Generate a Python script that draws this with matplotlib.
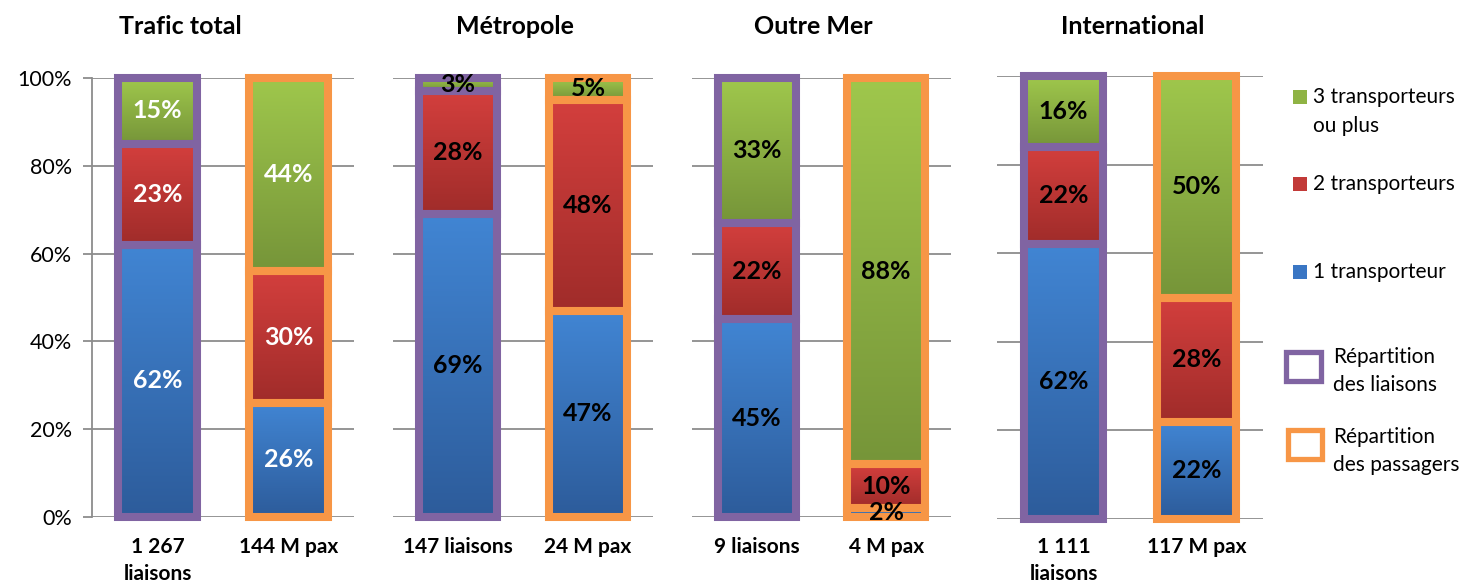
import matplotlib
matplotlib.use("Agg")
import matplotlib.pyplot as plt
import numpy as np
from matplotlib.patches import Rectangle
from matplotlib.colors import to_rgb
import matplotlib.transforms as mtransforms

plt.rcParams['font.family'] = ['Lato', 'DejaVu Sans']

# ---------------- data ----------------
panels = ["Trafic total", "Métropole", "Outre Mer", "International"]
bar_labels = [["1 267\nliaisons", "144 M pax"],
              ["147 liaisons", "24 M pax"],
              ["9 liaisons", "4 M pax"],
              ["1 111\nliaisons", "117 M pax"]]
series = ["1 transporteur", "2 transporteurs", "3 transporteurs\nou plus"]
# values per panel: [liaisons, passagers], each [1, 2, 3+ transporteurs] in %
one_carrier = [[62, 26], [69, 47], [45, 2], [62, 22]]
two_carriers = [[23, 30], [28, 48], [22, 10], [22, 28]]
three_plus = [[15, 44], [3, 5], [33, 88], [16, 50]]

# ---------------- styles ----------------
W, H = 1483, 588
grad = {0: ("#4185d3", "#2d5c9b"),   # blue top, bottom
        1: ("#d33f3d", "#a02c2a"),   # red
        2: ("#9fc74c", "#769539")}   # green
legend_col = ["#3a76c4", "#c23a38", "#8fb344"]
edge_cols = ["#8064a2", "#f79646"]
label_color = ["white", "black", "black", "black"]

def fx(px):
    return px / W

def fy(py):
    return 1 - py / H

panel_px = [(92, 354, 78, 517), (393, 653, 78, 517), (692, 951, 78, 517), (997, 1263, 76, 519)]
title_x = [180, 515, 813, 1133]

fig = plt.figure(figsize=(W / 100, H / 100), dpi=100)

for p in range(4):
    l, r, t, b = panel_px[p]
    ax = fig.add_axes([fx(l), fy(b), (r - l) / W, (b - t) / H])
    ax.set_xlim(0, 2)
    ax.set_ylim(0, 1)
    xs = [0.5, 1.5]
    stacks = [one_carrier[p], two_carriers[p], three_plus[p]]
    bottoms = np.zeros(2)
    for s in range(3):
        vals = np.array(stacks[s]) / 100.0
        bars = ax.bar(xs, vals, width=0.6, bottom=bottoms, facecolor='none',
                      edgecolor=edge_cols, linewidth=5.8, zorder=4, clip_on=False)
        top_c, bot_c = grad[s]
        for j, patch in enumerate(bars.patches):
            x0, y0 = patch.get_x(), patch.get_y()
            w, h = patch.get_width(), patch.get_height()
            n = 64
            tt = np.linspace(0, 1, n)[:, None]
            c = (1 - tt) * np.array(to_rgb(top_c)) + tt * np.array(to_rgb(bot_c))
            img = c[:, None, :]
            ax.imshow(img, extent=[x0, x0 + w, y0, y0 + h], aspect='auto',
                      origin='upper', zorder=3, interpolation='bilinear')
            ax.text(x0 + w / 2, y0 + h / 2, f"{stacks[s][j]}%", ha='center', va='center',
                    fontsize=18, fontweight='bold', color=label_color[p], zorder=6)
        bottoms = bottoms + vals
    ax.set_xlim(0, 2)
    ax.set_ylim(0, 1)
    ax.set_yticks(np.linspace(0, 1, 6))
    ax.yaxis.grid(True, color='#8c8c8c', linewidth=1.3, zorder=0)
    ax.set_axisbelow(True)
    for sp in ['top', 'right', 'bottom']:
        ax.spines[sp].set_visible(False)
    ax.set_xticks([])
    if p == 0:
        ax.spines['left'].set_color('#8c8c8c')
        ax.spines['left'].set_linewidth(1.3)
        ax.set_yticklabels([f"{int(v)}%" for v in np.linspace(0, 100, 6)], fontsize=15.5)
        ax.tick_params(axis='y', length=6.5, width=1.3, color='#8c8c8c', pad=8)
    else:
        ax.spines['left'].set_visible(False)
        ax.tick_params(axis='y', length=0, labelleft=False)
    trans = mtransforms.blended_transform_factory(ax.transData, fig.transFigure)
    for j in range(2):
        ax.text(xs[j], fy(537), bar_labels[p][j], transform=trans, ha='center', va='top',
                fontsize=15, fontweight='bold', linespacing=1.45)
    fig.text(fx(title_x[p]), fy(26), panels[p], ha='center', va='center',
             fontsize=18, fontweight='bold')

# ---------------- legend ----------------
leg_y = [97, 184, 272]
for s, yy in zip([2, 1, 0], leg_y):
    fig.patches.append(Rectangle((fx(1293), fy(yy + 7)), 14 / W, 14 / H,
                                 transform=fig.transFigure, facecolor=legend_col[s],
                                 edgecolor='none'))
fs_leg = 15
fig.text(fx(1313), fy(97), "3 transporteurs", ha='left', va='center', fontsize=fs_leg)
fig.text(fx(1313), fy(126), "ou plus", ha='left', va='center', fontsize=fs_leg)
fig.text(fx(1313), fy(184), "2 transporteurs", ha='left', va='center', fontsize=fs_leg)
fig.text(fx(1313), fy(272), "1 transporteur", ha='left', va='center', fontsize=fs_leg)

for (x0, y0, x1, y1), col, l1, l2, ty in [((1286, 352, 1321, 381), edge_cols[0], "Répartition", "des liaisons", 357),
                                         ((1288, 430, 1322, 459), edge_cols[1], "Répartition", "des passagers", 437)]:
    fig.patches.append(Rectangle((fx(x0), fy(y1)), (x1 - x0) / W, (y1 - y0) / H,
                                 transform=fig.transFigure, facecolor='white',
                                 edgecolor=col, linewidth=3.8))
    fig.text(fx(1333), fy(ty), l1, ha='left', va='center', fontsize=fs_leg)
    fig.text(fx(1333), fy(ty + 28), l2, ha='left', va='center', fontsize=fs_leg)

fig.savefig("out.png", dpi=100)
